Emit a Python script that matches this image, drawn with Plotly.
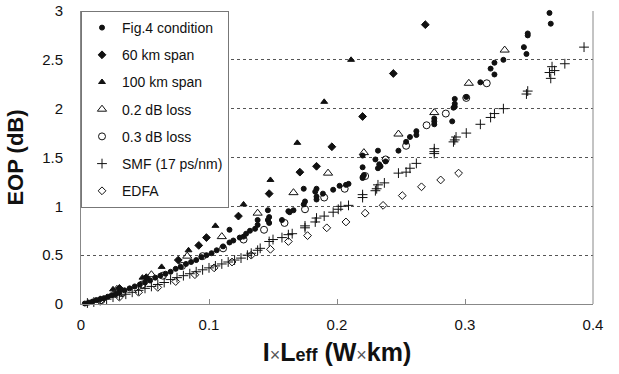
import plotly.graph_objects as go

# ---------------- data ----------------
fig4_x = [0.003, 0.006, 0.009, 0.012, 0.015, 0.018, 0.021, 0.024, 0.027, 0.030,
          0.034, 0.038, 0.042, 0.046, 0.050, 0.054, 0.058, 0.062, 0.066, 0.070,
          0.074, 0.078, 0.082, 0.086, 0.090, 0.094, 0.098, 0.102, 0.106, 0.111,
          0.116, 0.119, 0.124, 0.127, 0.129, 0.132, 0.116, 0.138, 0.138, 0.136,
          0.146, 0.147, 0.146, 0.147, 0.157, 0.166, 0.162, 0.163, 0.174, 0.175,
          0.174, 0.184, 0.183, 0.184, 0.184, 0.189, 0.197, 0.202, 0.207, 0.209,
          0.220, 0.220, 0.221, 0.220, 0.220, 0.230, 0.232, 0.233, 0.234, 0.238,
          0.232, 0.248, 0.254, 0.257, 0.262, 0.262, 0.276, 0.276, 0.276, 0.290,
          0.292, 0.292, 0.292, 0.291, 0.301, 0.312, 0.323, 0.320, 0.323, 0.330,
          0.348, 0.346, 0.349, 0.349, 0.366, 0.367]
fig4_y = [0.005, 0.015, 0.025, 0.04, 0.05, 0.06, 0.075, 0.09, 0.10, 0.12,
          0.14, 0.16, 0.18, 0.20, 0.22, 0.24, 0.27, 0.29, 0.31, 0.33,
          0.36, 0.38, 0.41, 0.43, 0.45, 0.48, 0.50, 0.52, 0.55, 0.59,
          0.63, 0.65, 0.68, 0.69, 0.72, 0.75, 0.76, 0.86, 0.81, 0.77,
          0.96, 0.89, 0.86, 0.83, 0.86, 0.96, 0.95, 0.94, 1.18, 1.05,
          1.02, 1.18, 1.15, 1.10, 1.07, 1.13, 1.17, 1.21, 1.22, 1.23,
          1.52, 1.40, 1.32, 1.30, 1.29, 1.48, 1.57, 1.43, 1.41, 1.46,
          1.39, 1.57, 1.66, 1.71, 1.77, 1.73, 1.90, 1.87, 1.84, 1.87,
          2.10, 2.05, 2.02, 2.01, 2.12, 2.27, 2.35, 2.41, 2.47, 2.50,
          2.56, 2.63, 2.75, 2.77, 2.98, 2.87]

span60_x = [0.030, 0.051, 0.076, 0.092, 0.098, 0.123, 0.147, 0.171, 0.184, 0.196, 0.220, 0.244, 0.269]
span60_y = [0.16, 0.27, 0.45, 0.60, 0.68, 0.90, 1.13, 1.35, 1.41, 1.61, 1.92, 2.36, 2.86]

span100_x = [0.025, 0.048, 0.063, 0.084, 0.105, 0.127, 0.148, 0.169, 0.190, 0.211]
span100_y = [0.15, 0.27, 0.38, 0.55, 0.80, 1.02, 1.27, 1.65, 2.07, 2.50]

loss02_x = [0.028, 0.055, 0.083, 0.110, 0.138, 0.166, 0.193, 0.221, 0.248, 0.276, 0.303, 0.331]
loss02_y = [0.15, 0.30, 0.49, 0.69, 0.93, 1.14, 1.34, 1.55, 1.74, 1.96, 2.26, 2.60]

loss03_x = [0.016, 0.032, 0.048, 0.064, 0.079, 0.095, 0.111, 0.127, 0.143, 0.159,
            0.175, 0.190, 0.206, 0.222, 0.238, 0.254, 0.270, 0.285, 0.301, 0.317]
loss03_y = [0.04, 0.11, 0.20, 0.29, 0.39, 0.49, 0.57, 0.66, 0.76, 0.83,
            0.97, 1.09, 1.18, 1.31, 1.48, 1.62, 1.83, 1.95, 2.11, 2.26]

smf_x = [0.005, 0.010, 0.015, 0.020, 0.025, 0.030, 0.035, 0.040, 0.045, 0.050,
         0.055, 0.060, 0.065, 0.070, 0.075, 0.080, 0.085, 0.090, 0.095, 0.100,
         0.105, 0.110, 0.115, 0.120, 0.125, 0.130, 0.133, 0.138, 0.140,
         0.147, 0.150, 0.157, 0.162, 0.165, 0.175, 0.175, 0.183, 0.184, 0.190,
         0.197, 0.201, 0.203, 0.209, 0.220, 0.220, 0.230, 0.231, 0.232, 0.237,
         0.248, 0.254, 0.257, 0.262, 0.276, 0.276, 0.276, 0.293, 0.292, 0.291,
         0.301, 0.312, 0.320, 0.323, 0.330, 0.349, 0.348, 0.367, 0.366, 0.370,
         0.368, 0.378, 0.393]
smf_y = [0.01, 0.02, 0.035, 0.05, 0.07, 0.09, 0.10, 0.12, 0.14, 0.16,
         0.18, 0.20, 0.22, 0.25, 0.27, 0.29, 0.31, 0.33, 0.35, 0.37,
         0.39, 0.41, 0.43, 0.45, 0.47, 0.50, 0.52, 0.55, 0.57,
         0.64, 0.66, 0.68, 0.71, 0.72, 0.80, 0.78, 0.84, 0.88, 0.90,
         0.94, 0.97, 1.00, 1.01, 1.12, 1.09, 1.16, 1.18, 1.22, 1.24,
         1.34, 1.35, 1.39, 1.44, 1.59, 1.56, 1.54, 1.71, 1.68, 1.66,
         1.75, 1.84, 1.91, 1.95, 2.00, 2.18, 2.15, 2.31, 2.37, 2.39,
         2.43, 2.46, 2.63]

edfa_x = [0.015, 0.030, 0.045, 0.060, 0.074, 0.089, 0.104, 0.118, 0.133, 0.148,
          0.162, 0.177, 0.192, 0.207, 0.222, 0.236, 0.251, 0.266, 0.281, 0.295]
edfa_y = [0.03, 0.07, 0.12, 0.17, 0.23, 0.30, 0.37, 0.43, 0.50, 0.56,
          0.64, 0.70, 0.78, 0.84, 0.93, 1.01, 1.11, 1.20, 1.27, 1.34]

x_ticks = [0, 0.1, 0.2, 0.3, 0.4]
x_tick_labels = ["0", "0.1", "0.2", "0.3", "0.4"]
y_ticks = [0, 0.5, 1, 1.5, 2, 2.5, 3]
y_tick_labels = ["0", "0.5", "1", "1.5", "2", "2.5", "3"]

series = [
    ("Fig.4 condition", fig4_x, fig4_y, "circle", 5),
    ("60 km span", span60_x, span60_y, "diamond", 6),
    ("100 km span", span100_x, span100_y, "triangle-up", 6),
    ("0.2 dB loss", loss02_x, loss02_y, "triangle-up-open", 8),
    ("0.3 dB loss", loss03_x, loss03_y, "circle-open", 7),
    ("SMF (17 ps/nm)", smf_x, smf_y, "cross-thin-open", 7),
    ("EDFA", edfa_x, edfa_y, "diamond-open", 6),
]

FONT = "Liberation Sans, Arial, sans-serif"
NARROW = "Liberation Sans Narrow, Arial Narrow, Liberation Sans, sans-serif"

fig = go.Figure()
for i, (name, xs, ys, sym, sz) in enumerate(series):
    fig.add_trace(go.Scatter(
        x=xs, y=ys, mode="markers", name=name, legendgroup=str(i),
        marker=dict(symbol=sym, size=sz, color="#111",
                    line=dict(width=1, color="#111")),
        cliponaxis=False,
    ))

fig.update_layout(
    width=619, height=374,
    margin=dict(l=81, r=26, t=11, b=70),
    paper_bgcolor="white", plot_bgcolor="white",
    font=dict(family=FONT, color="#111"),
    showlegend=True,
    legend=dict(
        x=0, y=1, xanchor="left", yanchor="top",
        bgcolor="white", bordercolor="#777", borderwidth=1,
        font=dict(size=14, family=FONT, color="#111"),
        tracegroupgap=6, itemwidth=30,
    ),
    xaxis=dict(
        range=[0, 0.4], tickvals=x_ticks, ticktext=x_tick_labels,
        showgrid=False, zeroline=False, automargin=False,
        showline=True, linecolor="#888", linewidth=1, mirror=False,
        ticks="inside", ticklen=5, tickcolor="#888", ticklabelstandoff=7,
        tickfont=dict(size=15, family=FONT, color="#111"),
        title=dict(
            text="<b>I</b><span style='font-size:18px;color:#555'>×</span><b>L<span style='font-size:18px'>eff</span> (W</b><span style='font-size:18px;color:#555'>×</span><b>km)</b>",
            font=dict(size=25, family=FONT, color="#111"), standoff=11),
    ),
    yaxis=dict(
        range=[0, 3], tickvals=y_ticks, ticktext=y_tick_labels,
        showgrid=True, gridcolor="#555", gridwidth=1, griddash="dot",
        zeroline=False, automargin=False,
        showline=True, linecolor="#888", linewidth=1,
        ticks="", ticklabelstandoff=14,
        tickfont=dict(size=15, family=FONT, color="#111"),
        title=dict(text="<b>EOP (dB)</b>",
                   font=dict(size=22, family=NARROW, color="#111"), standoff=12),
    ),
)
# right frame line
fig.add_shape(type="line", xref="paper", yref="paper", x0=1, x1=1, y0=0, y1=1,
              line=dict(color="#888", width=1))

fig.write_html("out.html")
